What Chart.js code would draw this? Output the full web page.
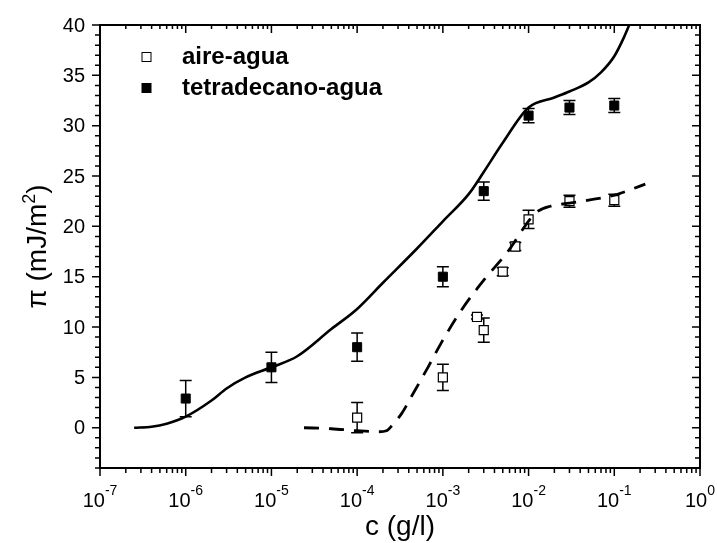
<!DOCTYPE html>
<html>
<head>
<meta charset="utf-8">
<script src="https://cdn.jsdelivr.net/npm/chart.js@4.4.1/dist/chart.umd.min.js"></script>
<style>
  body { margin: 0; background: #fff; }
  #box { width: 717px; height: 543px; }
</style>
</head>
<body>
<div id="box"><canvas id="grafico" width="717" height="543"></canvas></div>
<script>
// datos experimentales
const concTetra = [1e-6, 1e-5, 1e-4, 1e-3, 3e-3, 1e-2, 3e-2, 1e-1];
const piTetra = [2.9, 6.0, 8.0, 15.0, 23.5, 31.0, 31.8, 32.0];
const errTetra = [1.8, 1.5, 1.4, 1.0, 0.9, 0.7, 0.7, 0.7];

const concAire = [1e-4, 1e-3, 2.5e-3, 3e-3, 5e-3, 7e-3, 1e-2, 3e-2, 1e-1];
const piAire = [1.0, 5.0, 11.0, 9.7, 15.5, 18.0, 20.7, 22.5, 22.6];
const errAire = [1.5, 1.3, 0.2, 1.2, 0.4, 0.4, 0.9, 0.6, 0.6];

// curvas teoricas
const concTetraFit = [2.5e-7, 4e-7, 6e-7, 1e-6, 2e-6, 3e-6, 5e-6, 1e-5, 2e-5, 5e-5, 1e-4, 2e-4, 5e-4, 1e-3, 2e-3, 3e-3, 5e-3, 1e-2, 2e-2, 3e-2, 5e-2, 7e-2, 1e-1, 1.3e-1, 1.6e-1];
const piTetraFit = [0, 0.1, 0.4, 1.1, 2.7, 3.9, 5.0, 6.0, 7.1, 9.8, 11.8, 14.4, 17.8, 20.5, 23.2, 25.4, 28.3, 31.8, 32.8, 33.4, 34.3, 35.3, 36.9, 38.8, 40.6];

const concAireFit = [2.4e-5, 5e-5, 1e-4, 1.8e-4, 2.2e-4, 2.6e-4, 3.3e-4, 4.3e-4, 6.7e-4, 1e-3, 1.65e-3, 3.1e-3, 5.5e-3, 1.2e-2, 1.8e-2, 3e-2, 5e-2, 1e-1, 1.5e-1, 2.3e-1];
const piAireFit = [0, -0.1, -0.3, -0.4, -0.3, 0.3, 1.4, 3.1, 6.0, 8.7, 11.7, 14.8, 17.3, 21.3, 22.0, 22.3, 22.6, 23.1, 23.6, 24.2];

// ejes
const expX = [-7, -6, -5, -4, -3, -2, -1, 0];
const ticksY = [0, 5, 10, 15, 20, 25, 30, 35, 40];

const fuente = '"Liberation Sans", Arial, sans-serif';

function pares(xs, ys) {
  return xs.map((x, i) => ({ x: x, y: ys[i] }));
}

const barrasError = [
  { xs: concTetra, ys: piTetra, err: errTetra },
  { xs: concAire, ys: piAire, err: errAire }
];

const pluginErrores = {
  id: 'errores',
  beforeDatasetsDraw(chart) {
    const ctx = chart.ctx;
    const sx = chart.scales.x;
    const sy = chart.scales.y;
    ctx.save();
    ctx.strokeStyle = '#000';
    ctx.lineWidth = 1.5;
    barrasError.forEach((b) => {
      b.xs.forEach((c, i) => {
        const px = sx.getPixelForValue(c);
        const yTop = sy.getPixelForValue(b.ys[i] + b.err[i]);
        const yBot = sy.getPixelForValue(b.ys[i] - b.err[i]);
        ctx.beginPath();
        ctx.moveTo(px, yTop);
        ctx.lineTo(px, yBot);
        ctx.moveTo(px - 6, yTop);
        ctx.lineTo(px + 6, yTop);
        ctx.moveTo(px - 6, yBot);
        ctx.lineTo(px + 6, yBot);
        ctx.stroke();
      });
    });
    ctx.restore();
  }
};

const pluginEjes = {
  id: 'ejes',
  afterDraw(chart) {
    const ctx = chart.ctx;
    const a = chart.chartArea;
    const sx = chart.scales.x;
    const sy = chart.scales.y;
    ctx.save();
    ctx.strokeStyle = '#000';
    ctx.fillStyle = '#000';
    ctx.lineWidth = 2;
    ctx.strokeRect(a.left, a.top, a.right - a.left, a.bottom - a.top);

    ctx.lineWidth = 1.5;
    ctx.beginPath();
    // ticks eje x
    expX.forEach((e) => {
      const px = sx.getPixelForValue(Math.pow(10, e));
      ctx.moveTo(px, a.bottom);
      ctx.lineTo(px, a.bottom + 8);
      ctx.moveTo(px, a.top);
      ctx.lineTo(px, a.top + 8);
      if (e < 0) {
        for (let k = 2; k <= 9; k++) {
          const pm = sx.getPixelForValue(k * Math.pow(10, e));
          ctx.moveTo(pm, a.bottom);
          ctx.lineTo(pm, a.bottom + 5);
          ctx.moveTo(pm, a.top);
          ctx.lineTo(pm, a.top + 4);
        }
      }
    });
    // ticks eje y
    for (let v = -4; v <= 40; v++) {
      const py = sy.getPixelForValue(v);
      const largo = v % 5 === 0 ? 8 : 5;
      ctx.moveTo(a.left, py);
      ctx.lineTo(a.left - largo, py);
      ctx.moveTo(a.right, py);
      ctx.lineTo(a.right - largo, py);
    }
    ctx.stroke();

    // etiquetas y
    ctx.font = '20px ' + fuente;
    ctx.textAlign = 'right';
    ctx.textBaseline = 'middle';
    ticksY.forEach((v) => {
      ctx.fillText(String(v), a.left - 15, sy.getPixelForValue(v) + 1);
    });

    // etiquetas x (10 con exponente)
    ctx.textAlign = 'left';
    ctx.textBaseline = 'alphabetic';
    expX.forEach((e) => {
      const px = sx.getPixelForValue(Math.pow(10, e));
      ctx.font = '20px ' + fuente;
      const w1 = ctx.measureText('10').width;
      ctx.font = '14px ' + fuente;
      const exp = e === 0 ? '0' : '-' + Math.abs(e);
      const w2 = ctx.measureText(exp).width;
      const x0 = px - (w1 + w2) / 2;
      ctx.font = '20px ' + fuente;
      ctx.fillText('10', x0, a.bottom + 39);
      ctx.font = '14px ' + fuente;
      ctx.fillText(exp, x0 + w1, a.bottom + 27);
    });

    // titulo eje x
    ctx.font = '28px ' + fuente;
    ctx.textAlign = 'center';
    ctx.fillText('c (g/l)', (a.left + a.right) / 2, 535);

    // titulo eje y
    ctx.save();
    ctx.translate(46, (a.top + a.bottom) / 2);
    ctx.rotate(-Math.PI / 2);
    ctx.font = '28px ' + fuente;
    const t1 = 'π (mJ/m';
    const w1 = ctx.measureText(t1).width;
    ctx.font = '18px ' + fuente;
    const w2 = ctx.measureText('2').width;
    ctx.font = '28px ' + fuente;
    const w3 = ctx.measureText(')').width;
    let x0 = -(w1 + w2 + w3) / 2;
    ctx.textAlign = 'left';
    ctx.fillText(t1, x0, 0);
    ctx.font = '18px ' + fuente;
    ctx.fillText('2', x0 + w1, -11);
    ctx.font = '28px ' + fuente;
    ctx.fillText(')', x0 + w1 + w2, 0);
    ctx.restore();

    // leyenda
    const items = chart.data.datasets.filter((d) => d.enLeyenda);
    items.forEach((d, i) => {
      const y = 57 + i * 31;
      ctx.lineWidth = 1;
      ctx.fillStyle = d.backgroundColor;
      ctx.fillRect(142, y - 4.5, 9, 9);
      ctx.strokeStyle = '#000';
      ctx.strokeRect(142, y - 4.5, 9, 9);
      ctx.fillStyle = '#000';
      ctx.font = 'bold 24px ' + fuente;
      ctx.textAlign = 'left';
      ctx.textBaseline = 'middle';
      ctx.fillText(d.label, 182, y);
    });
    ctx.restore();
  }
};

const ctx = document.getElementById('grafico').getContext('2d');

new Chart(ctx, {
  type: 'scatter',
  data: {
    datasets: [
      {
        label: 'teoria tetradecano',
        type: 'line',
        data: pares(concTetraFit, piTetraFit),
        borderColor: '#000',
        borderWidth: 2.6,
        pointRadius: 0,
        fill: false,
        cubicInterpolationMode: 'monotone'
      },
      {
        label: 'teoria aire',
        type: 'line',
        data: pares(concAireFit, piAireFit),
        borderColor: '#000',
        borderWidth: 2.8,
        borderDash: [15, 10],
        pointRadius: 0,
        fill: false,
        cubicInterpolationMode: 'monotone'
      },
      {
        label: 'aire-agua',
        enLeyenda: true,
        data: pares(concAire, piAire),
        pointStyle: 'rect',
        pointRadius: 6.4,
        backgroundColor: '#fff',
        borderColor: '#000',
        borderWidth: 1.2
      },
      {
        label: 'tetradecano-agua',
        enLeyenda: true,
        data: pares(concTetra, piTetra),
        pointStyle: 'rect',
        pointRadius: 6.4,
        backgroundColor: '#000',
        borderColor: '#000',
        borderWidth: 1
      }
    ]
  },
  options: {
    responsive: false,
    animation: false,
    layout: {
      padding: { left: 100, right: 17, top: 25, bottom: 75 }
    },
    scales: {
      x: { type: 'logarithmic', min: 1e-7, max: 1, display: false },
      y: { type: 'linear', min: -4, max: 40, display: false }
    },
    plugins: {
      legend: { display: false },
      tooltip: { enabled: false }
    }
  },
  plugins: [pluginErrores, pluginEjes]
});
</script>
</body>
</html>
